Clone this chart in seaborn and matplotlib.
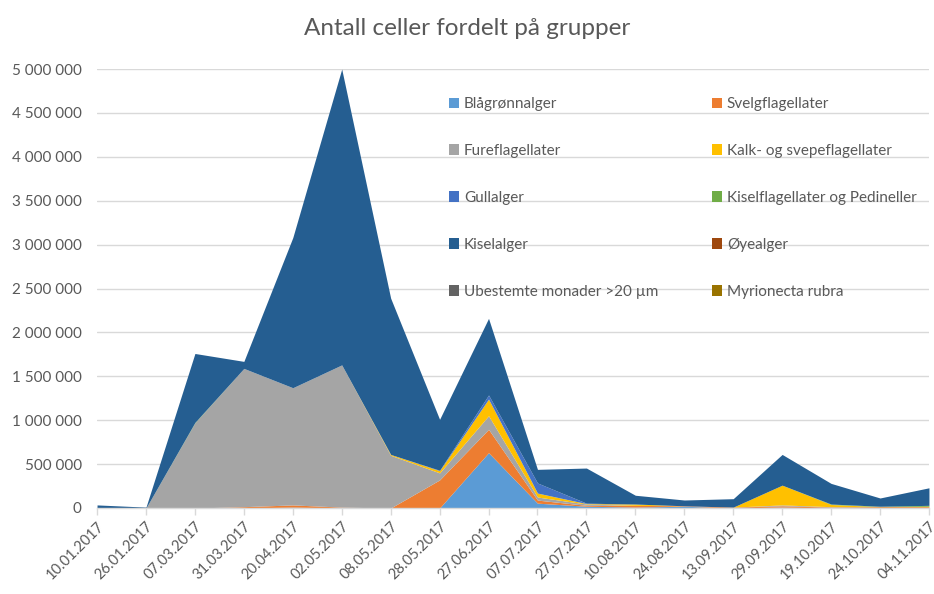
import numpy as np
import matplotlib
matplotlib.use("Agg")
import matplotlib.pyplot as plt
import seaborn as sns
from matplotlib.patches import Patch
from matplotlib.ticker import FuncFormatter, MultipleLocator

# ------------------------------
# DATA
# ------------------------------
dates = ["10.01.2017", "26.01.2017", "07.03.2017", "31.03.2017", "20.04.2017",
         "02.05.2017", "08.05.2017", "28.05.2017", "27.06.2017", "07.07.2017",
         "27.07.2017", "10.08.2017", "24.08.2017", "13.09.2017", "29.09.2017",
         "19.10.2017", "24.10.2017", "04.11.2017"]

blagronnalger = [0, 0, 0, 0, 10000, 0, 0, 0, 630000, 55000,
                 20000, 10000, 20000, 0, 10000, 0, 5000, 5000]
svelgflagellater = [0, 0, 0, 15000, 25000, 10000, 0, 320000, 266000, 35000,
                    10000, 20000, 5000, 10000, 15000, 10000, 10000, 10000]
fureflagellater = [0, 0, 970000, 1575000, 1335000, 1620000, 600000, 80000, 155000, 35000,
                   15000, 0, 0, 0, 10000, 5000, 0, 0]
kalk_svepe = [0, 0, 0, 0, 0, 0, 10000, 25000, 190000, 45000,
              5000, 15000, 0, 0, 225000, 25000, 0, 5000]
gullalger = [0, 0, 0, 0, 0, 0, 0, 5000, 46000, 115000,
             5000, 0, 0, 0, 0, 0, 0, 0]
kiselflagellater = [0, 0, 5000, 0, 0, 0, 0, 0, 0, 0,
                    0, 0, 0, 0, 0, 5000, 5000, 10000]
kiselalger = [35000, 10000, 785000, 80000, 1710000, 3370000, 1780000, 580000, 873000, 155000,
              400000, 100000, 66000, 96000, 350000, 235000, 94000, 200000]
oyealger = [0] * 18
ubestemte = [0] * 18
myrionecta = [0] * 18

series_names = ["Blågrønnalger", "Svelgflagellater", "Fureflagellater",
                "Kalk- og svepeflagellater", "Gullalger", "Kiselflagellater og Pedineller",
                "Kiselalger", "Øyealger", "Ubestemte monader >20 µm", "Myrionecta rubra"]
series_values = [blagronnalger, svelgflagellater, fureflagellater, kalk_svepe, gullalger,
                 kiselflagellater, kiselalger, oyealger, ubestemte, myrionecta]
colors = ["#5B9BD5", "#ED7D31", "#A5A5A5", "#FFC000", "#4472C4",
          "#70AD47", "#255E91", "#9E480E", "#636363", "#997300"]

# ------------------------------
# PLOT
# ------------------------------
sns.set_theme(style="whitegrid")
plt.rcParams["font.family"] = ["Lato", "DejaVu Sans"]
text_col = "#595959"
grid_col = "#D9D9D9"

fig = plt.figure(figsize=(9.34, 5.94), dpi=100)
ax = fig.add_axes([0.1039, 0.1448, 0.8907, 0.739])

x = np.arange(len(dates))
ax.stackplot(x, *[np.array(v) for v in series_values], colors=colors, linewidth=0)

ax.set_xlim(0, len(dates) - 1)
ax.set_ylim(0, 5000000)
ax.yaxis.set_major_locator(MultipleLocator(500000))
ax.yaxis.set_major_formatter(FuncFormatter(lambda v, p: f"{v:,.0f}".replace(",", " ")))

ax.set_xticks(x)
ax.set_xticklabels(dates, rotation=45, ha="right", rotation_mode="anchor")
ax.tick_params(axis="x", colors=grid_col, labelcolor=text_col, labelsize=10.5,
               length=5, width=1, direction="out", bottom=True, pad=3)
ax.tick_params(axis="y", labelcolor=text_col, labelsize=11, length=0, pad=11)

ax.grid(axis="y", color=grid_col, linewidth=1)
ax.grid(axis="x", visible=False)
ax.set_axisbelow(True)
for s in ["top", "right", "left"]:
    ax.spines[s].set_visible(False)
ax.spines["bottom"].set_color(grid_col)
ax.spines["bottom"].set_linewidth(1)

fig.text(0.5, 0.952, "Antall celler fordelt på grupper", ha="center", va="center",
         fontsize=17.5, color=text_col)

# legend row by row (two columns)
handles = [Patch(facecolor=c, edgecolor="none") for c in colors]
order = [0, 2, 4, 6, 8, 1, 3, 5, 7, 9]
leg = ax.legend([handles[i] for i in order], [series_names[i] for i in order],
                ncol=2, frameon=False, loc="upper left", bbox_to_anchor=(0.406, 0.967),
                fontsize=11, handlelength=0.7, handleheight=0.7, handletextpad=0.3,
                labelspacing=2.15, columnspacing=3.5, labelcolor=text_col)

fig.savefig("out.png", dpi=100)
